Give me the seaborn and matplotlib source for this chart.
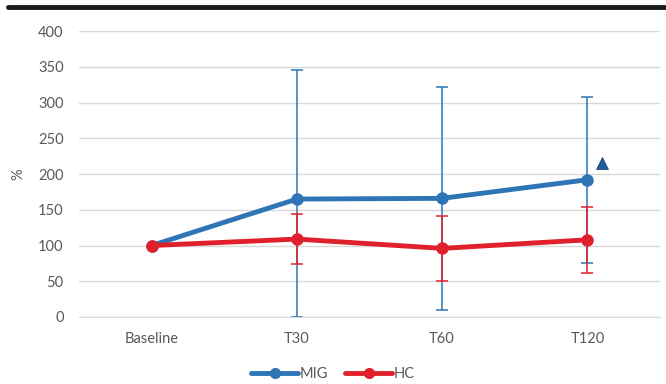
import numpy as np
import pandas as pd
import seaborn as sns
import matplotlib.pyplot as plt
from matplotlib.lines import Line2D

# values
timepoints = ["Baseline", "T30", "T60", "T120"]
mig_mean = [100, 165, 166, 192]
mig_sd = [0, 180, 156, 116]
hc_mean = [100, 109, 96, 108]
hc_sd = [0, 35, 46, 46]
marker_value = 215

mig_color = "#2E75B6"
hc_color = "#E0202B"

df = pd.DataFrame({
    "time": timepoints * 2,
    "x": list(range(len(timepoints))) * 2,
    "value": mig_mean + hc_mean,
    "group": ["MIG"] * 4 + ["HC"] * 4,
})

sns.set_style("white")
plt.rcParams['font.family'] = ['Lato', 'DejaVu Sans']

fig = plt.figure(figsize=(6.66, 3.84), dpi=100)
ax = fig.add_axes([0.1186, 0.1745, 0.8724, 0.7445])

# error bars first so the lines sit on top
x = np.arange(len(timepoints))
for mean, sd, col in [(mig_mean, mig_sd, mig_color), (hc_mean, hc_sd, hc_color)]:
    mean = np.array(mean)
    sd = np.array(sd)
    lower = np.minimum(sd, mean)  # clipped at 0
    ax.errorbar(x[1:], mean[1:], yerr=[lower[1:], sd[1:]], fmt="none",
                ecolor=col, elinewidth=1.1, capsize=4, capthick=1.1, zorder=2)

sns.lineplot(data=df, x="x", y="value", hue="group",
             palette={"MIG": mig_color, "HC": hc_color},
             marker="o", markersize=9, markeredgewidth=0, linewidth=3.5,
             ax=ax, zorder=3, legend=False)

ax.plot([3.1], [marker_value], marker="^", color="#1F5A9A", markersize=9,
        markeredgecolor="#163F6E", markeredgewidth=0.5, linestyle="none", zorder=4)

ax.set_xlim(-0.5, 3.5)
ax.set_ylim(0, 400)
ax.set_yticks(range(0, 401, 50))
ax.set_xticks(x)
ax.set_xticklabels(timepoints)
ax.set_xlabel("")
ax.set_ylabel("%", fontsize=10.5, color="#595959", labelpad=9)
ax.yaxis.grid(True, color="#D9D9D9", linewidth=1)
ax.set_axisbelow(True)
for s in ["top", "right", "left"]:
    ax.spines[s].set_visible(False)
ax.spines["bottom"].set_color("#D9D9D9")
ax.tick_params(axis="both", length=0, labelsize=10.5, labelcolor="#595959")
ax.tick_params(axis="x", pad=11)
ax.tick_params(axis="y", pad=11)

handles = [Line2D([], [], color=mig_color, lw=3.5, marker="o", markersize=7),
           Line2D([], [], color=hc_color, lw=3.5, marker="o", markersize=7)]
fig.legend(handles, ["MIG", "HC"], loc="center", bbox_to_anchor=(0.5, 0.025),
           ncol=2, frameon=False, fontsize=10.5, handlelength=3.2,
           handletextpad=0.1, columnspacing=1.2, labelcolor="#595959")

# thick rule across the top of the figure
fig.add_artist(Line2D([0.012, 1.0], [0.982, 0.982], color="#1A1A1A", lw=3.5,
                      transform=fig.transFigure))

fig.savefig("out.png", dpi=100)
